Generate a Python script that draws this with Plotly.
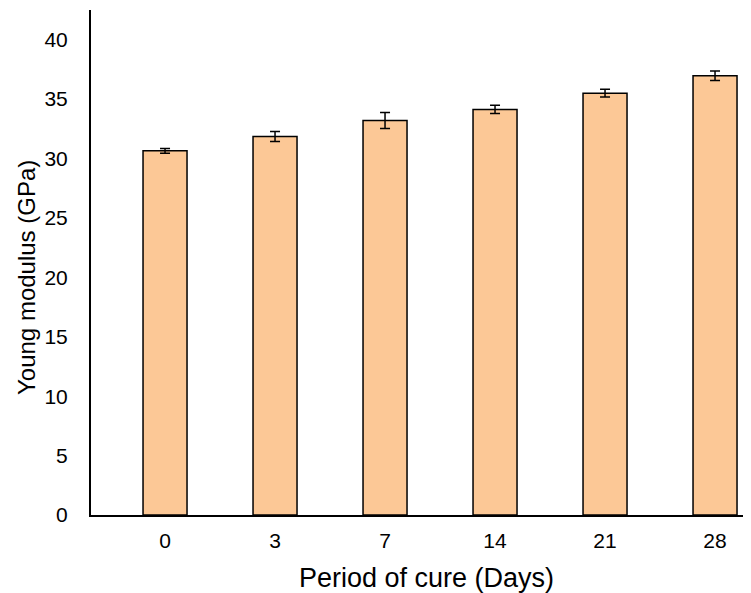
import plotly.graph_objects as go

days = ["0", "3", "7", "14", "21", "28"]
young_modulus = [30.65, 31.85, 33.2, 34.13, 35.5, 36.97]
error = [0.2, 0.42, 0.68, 0.35, 0.33, 0.4]
x_title = "Period of cure (Days)"
y_title = "Young modulus (GPa)"

fig = go.Figure()
fig.add_trace(go.Bar(
    x=days,
    y=young_modulus,
    width=0.4,
    marker=dict(color="#FCC896", line=dict(color="#000000", width=1.5)),
    error_y=dict(type="data", array=error, visible=True, color="#000000", thickness=1.5, width=5),
))

font_family = "Liberation Sans, Arial, sans-serif"
fig.update_layout(
    width=743,
    height=585,
    margin=dict(l=83, r=0, t=2, b=78),
    plot_bgcolor="white",
    paper_bgcolor="white",
    font=dict(family=font_family, color="#000000"),
    showlegend=False,
    xaxis=dict(
        type="category",
        range=[-0.673, 5.327],
        showline=True,
        linecolor="#000000",
        linewidth=2,
        showgrid=False,
        ticks="",
        tickfont=dict(size=21, family=font_family),
        ticklabelstandoff=6,
        automargin=False,
    ),
    yaxis=dict(
        range=[0, 42.5],
        tickvals=[0, 5, 10, 15, 20, 25, 30, 35, 40],
        showline=True,
        linecolor="#000000",
        linewidth=2,
        showgrid=False,
        zeroline=False,
        ticks="",
        tickfont=dict(size=21, family=font_family),
        ticklabelstandoff=17,
        automargin=False,
    ),
    annotations=[
        dict(text=x_title, xref="paper", yref="paper", x=0.5076, y=-0.1248,
             xanchor="center", yanchor="middle", showarrow=False,
             font=dict(size=27, family=font_family, color="#000000")),
        dict(text=y_title, xref="paper", yref="paper", x=-0.097, y=0.4713,
             xanchor="center", yanchor="middle", showarrow=False, textangle=-90,
             font=dict(size=24, family=font_family, color="#000000")),
    ],
)

fig.write_html("out.html")
